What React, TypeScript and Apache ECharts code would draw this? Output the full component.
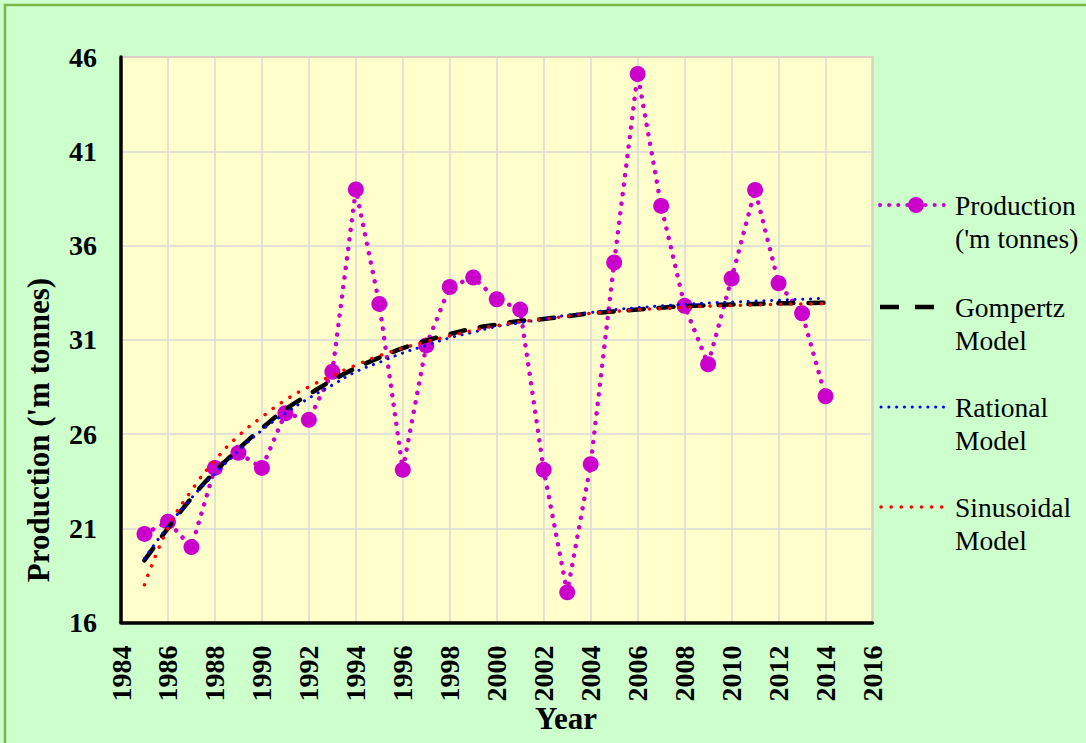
import React, { useEffect, useRef } from "react";
import * as echarts from "echarts";

const years = [
  1985, 1986, 1987, 1988, 1989, 1990, 1991, 1992, 1993, 1994,
  1995, 1996, 1997, 1998, 1999, 2000, 2001, 2002, 2003, 2004,
  2005, 2006, 2007, 2008, 2009, 2010, 2011, 2012, 2013, 2014,
];
const production = [
  20.7, 21.35, 20.0, 24.2, 25.0, 24.2, 27.1, 26.75, 29.3, 38.97,
  32.9, 24.1, 30.7, 33.8, 34.3, 33.15, 32.6, 24.1, 17.6, 24.4,
  35.1, 45.1, 38.1, 32.8, 29.7, 34.25, 38.95, 34.0, 32.4, 28.0,
];
const gompertz = [
  19.3, 21.0, 22.6, 24.0, 25.2, 26.3, 27.3, 28.1, 28.85, 29.5,
  30.05, 30.55, 30.95, 31.3, 31.6, 31.8, 32.0, 32.1, 32.25, 32.4,
  32.5, 32.6, 32.7, 32.78, 32.83, 32.87, 32.9, 32.93, 32.95, 32.97,
];
const rational = [
  19.4, 21.1, 22.6, 23.9, 25.1, 26.2, 27.1, 27.9, 28.6, 29.3,
  29.8, 30.3, 30.7, 31.1, 31.4, 31.7, 31.9, 32.1, 32.3, 32.45,
  32.6, 32.7, 32.8, 32.88, 32.95, 33.0, 33.05, 33.1, 33.15, 33.2,
];
const sinusoidal = [
  18.0, 21.0, 23.0, 24.6, 25.9, 26.9, 27.8, 28.5, 29.1, 29.65,
  30.15, 30.55, 30.9, 31.2, 31.5, 31.75, 31.95, 32.1, 32.25, 32.4,
  32.5, 32.6, 32.65, 32.72, 32.78, 32.82, 32.85, 32.88, 32.9, 32.92,
];

const seriesNames = [
  "Production ('m tonnes)",
  "Gompertz Model",
  "Rational Model",
  "Sinusoidal Model",
];
const legendLines = [
  ["Production", "('m tonnes)"],
  ["Gompertz", "Model"],
  ["Rational", "Model"],
  ["Sinusoidal", "Model"],
];

const FONT = "'Liberation Serif', 'Times New Roman', serif";
const MAGENTA = "#cc00cc";

const pairs = (vals: number[]) => years.map((y, i) => [y, vals[i]]);

export default function App() {
  const ref = useRef<HTMLDivElement>(null);
  useEffect(() => {
    if (!ref.current) return;
    const chart = echarts.init(ref.current, undefined, { renderer: "svg" });

    const legendY = [205, 307, 407, 507];
    const graphic: any[] = [
      {
        type: "rect",
        silent: true,
        shape: { x: 5, y: 5, width: 1300, height: 900 },
        style: { fill: "none", stroke: "#7ab648", lineWidth: 2.5 },
      },
      {
        type: "text",
        x: 38,
        y: 430,
        rotation: Math.PI / 2,
        style: {
          text: "Production ('m tonnes)",
          font: `bold 31px ${FONT}`,
          fill: "#000",
          align: "center",
          verticalAlign: "middle",
          textAlign: "center",
          textVerticalAlign: "middle",
        },
      },
      {
        type: "text",
        x: 566,
        y: 718,
        style: {
          text: "Year",
          font: `bold 31px ${FONT}`,
          fill: "#000",
          align: "center",
          verticalAlign: "middle",
          textAlign: "center",
          textVerticalAlign: "middle",
        },
      },
      // legend markers
      {
        type: "line",
        shape: { x1: 880, y1: legendY[0], x2: 945, y2: legendY[0] },
        style: { stroke: MAGENTA, lineWidth: 4, lineDash: [0.1, 9], lineCap: "round" },
      },
      {
        type: "circle",
        shape: { cx: 916, cy: legendY[0], r: 8 },
        style: { fill: MAGENTA },
      },
      {
        type: "line",
        shape: { x1: 880, y1: legendY[1], x2: 934, y2: legendY[1] },
        style: { stroke: "#000", lineWidth: 4.5, lineDash: [19, 16] },
      },
      {
        type: "line",
        shape: { x1: 881, y1: legendY[2], x2: 945, y2: legendY[2] },
        style: { stroke: "#0000ff", lineWidth: 3, lineDash: [0.1, 7.7], lineCap: "round" },
      },
      {
        type: "line",
        shape: { x1: 881, y1: legendY[3], x2: 945, y2: legendY[3] },
        style: { stroke: "#ff0000", lineWidth: 3.5, lineDash: [0.1, 10], lineCap: "round" },
      },
    ];
    legendLines.forEach((lines, i) => {
      graphic.push({
        type: "text",
        x: 955,
        y: legendY[i] - 16.5,
        style: {
          text: lines.join("\n"),
          font: `27.5px ${FONT}`,
          lineHeight: 33,
          fill: "#000",
          align: "left",
          verticalAlign: "top",
          textAlign: "left",
          textVerticalAlign: "top",
        },
      });
    });

    chart.setOption({
      animation: false,
      backgroundColor: "#ccffcc",
      grid: {
        left: 121,
        right: 213.5,
        top: 57,
        bottom: 120.5,
        show: true,
        backgroundColor: "#ffffcc",
        borderColor: "#f8b38a",
        borderWidth: 2,
      },
      xAxis: {
        type: "value",
        min: 1984,
        max: 2016,
        interval: 2,
        axisLine: { show: true, onZero: false, lineStyle: { color: "#000", width: 3.5 } },
        axisTick: { show: false },
        splitLine: { show: true, lineStyle: { color: "#d9d9d9", width: 1.5 } },
        axisLabel: {
          rotate: 90,
          margin: 23,
          color: "#000",
          fontFamily: FONT,
          fontWeight: "bold",
          fontSize: 28,
          formatter: (v: number) => String(v),
        },
      },
      yAxis: {
        type: "value",
        min: 16,
        max: 46,
        interval: 5,
        axisLine: { show: true, onZero: false, lineStyle: { color: "#000", width: 3.5 } },
        axisTick: { show: false },
        splitLine: { show: true, lineStyle: { color: "#d9d9d9", width: 1.5 } },
        axisLabel: {
          margin: 24,
          color: "#000",
          fontFamily: FONT,
          fontWeight: "bold",
          fontSize: 28,
          formatter: (v: number) => String(v),
        },
      },
      series: [
        {
          name: seriesNames[0],
          type: "line",
          data: pairs(production),
          symbol: "circle",
          symbolSize: 16,
          itemStyle: { color: MAGENTA },
          lineStyle: { color: MAGENTA, width: 4.5, type: [0.1, 9.5], cap: "round" },
          z: 2,
        },
        {
          name: seriesNames[1],
          type: "line",
          data: pairs(gompertz),
          smooth: true,
          showSymbol: false,
          symbol: "none",
          lineStyle: { color: "#000", width: 4.5, type: [15, 15], cap: "round" },
          z: 3,
        },
        {
          name: seriesNames[2],
          type: "line",
          data: pairs(rational),
          smooth: true,
          showSymbol: false,
          symbol: "none",
          lineStyle: { color: "#0000ff", width: 3, type: [0.1, 7.7], cap: "round" },
          z: 4,
        },
        {
          name: seriesNames[3],
          type: "line",
          data: pairs(sinusoidal),
          smooth: true,
          showSymbol: false,
          symbol: "none",
          lineStyle: { color: "#ff0000", width: 3.5, type: [0.1, 10], cap: "round" },
          z: 5,
        },
      ],
      graphic,
    });
    return () => chart.dispose();
  }, []);
  return (
    <div
      ref={ref}
      style={{ position: "fixed", left: 0, top: 0, width: 1086, height: 743 }}
    />
  );
}
